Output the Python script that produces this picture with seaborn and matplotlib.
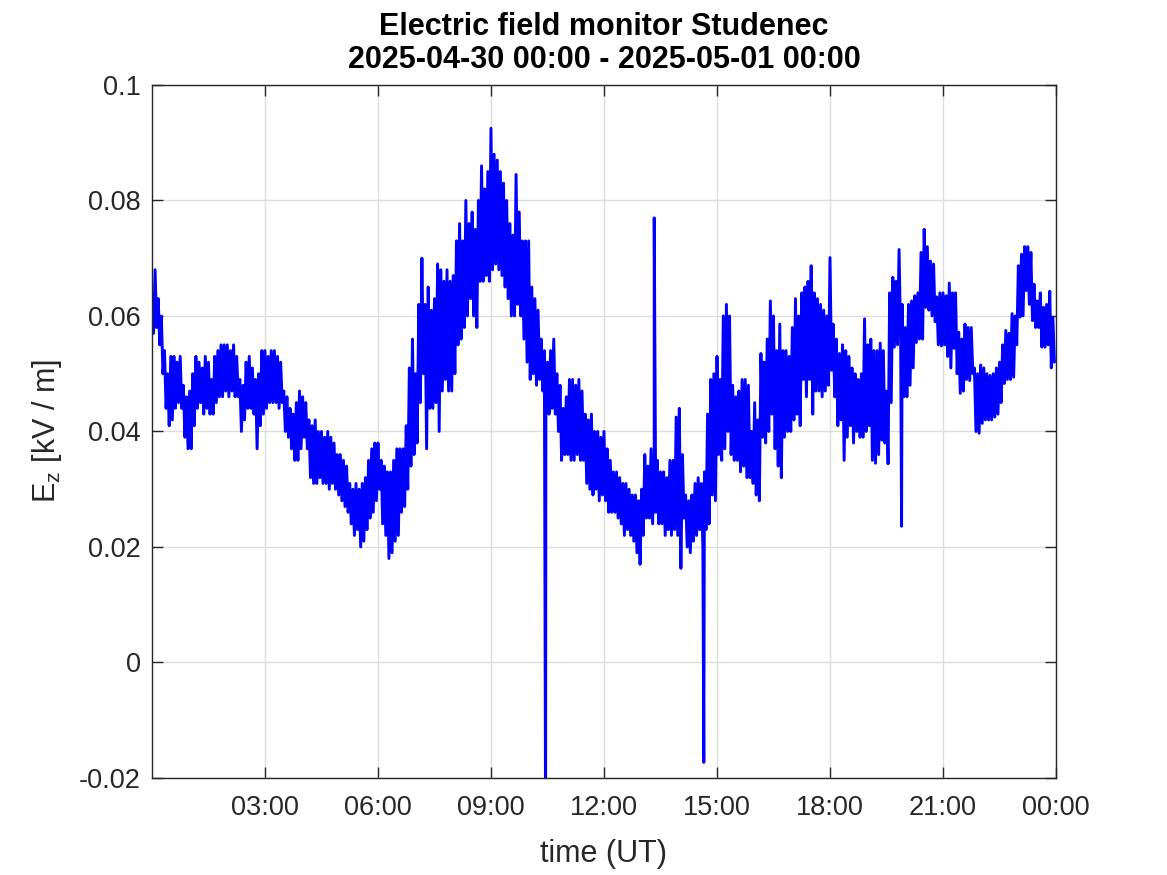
import numpy as np
import pandas as pd
import seaborn as sns
import matplotlib.pyplot as plt

# E_z envelope, one row per hour, 5-minute steps
# ez_hi at hh:mm, ez_lo at hh:mm + 2.5 min
ez_hi = [
    0.064, 0.068, 0.063, 0.060, 0.054, 0.050, 0.053, 0.053, 0.052, 0.053, 0.048, 0.046,
    0.047, 0.050, 0.053, 0.052, 0.051, 0.053, 0.052, 0.049, 0.053, 0.054, 0.055, 0.055,
    0.055, 0.054, 0.055, 0.053, 0.049, 0.048, 0.052, 0.053, 0.051, 0.049, 0.050, 0.054,
    0.054, 0.053, 0.054, 0.054, 0.053, 0.052, 0.047, 0.046, 0.044, 0.043, 0.045, 0.047,
    0.046, 0.045, 0.042, 0.041, 0.042, 0.040, 0.040, 0.039, 0.040, 0.039, 0.038, 0.036,
    0.036, 0.035, 0.034, 0.031, 0.030, 0.031, 0.030, 0.031, 0.032, 0.035, 0.037, 0.038,
    0.038, 0.035, 0.034, 0.033, 0.033, 0.035, 0.037, 0.037, 0.037, 0.041, 0.051, 0.056,
    0.050, 0.062, 0.070, 0.062, 0.065, 0.061, 0.063, 0.069, 0.068, 0.066, 0.068, 0.066,
    0.067, 0.073, 0.076, 0.073, 0.080, 0.076, 0.078, 0.075, 0.080, 0.086, 0.082, 0.085,
    0.0925, 0.088, 0.087, 0.085, 0.083, 0.080, 0.076, 0.074, 0.0845, 0.078, 0.073, 0.073,
    0.073, 0.065, 0.063, 0.061, 0.056, 0.054, 0.052, 0.054, 0.056, 0.050, 0.048, 0.044,
    0.046, 0.049, 0.049, 0.048, 0.049, 0.047, 0.043, 0.042, 0.043, 0.040, 0.040, 0.039,
    0.040, 0.037, 0.035, 0.033, 0.033, 0.032, 0.031, 0.031, 0.030, 0.029, 0.029, 0.028,
    0.030, 0.036, 0.034, 0.037, 0.036, 0.035, 0.033, 0.033, 0.032, 0.035, 0.035, 0.0425,
    0.044, 0.036, 0.029, 0.028, 0.029, 0.031, 0.032, 0.031, 0.033, 0.043, 0.049, 0.050,
    0.053, 0.049, 0.060, 0.062, 0.060, 0.048, 0.046, 0.047, 0.049, 0.049, 0.048, 0.040,
    0.045, 0.042, 0.0535, 0.052, 0.056, 0.0626, 0.060, 0.054, 0.0586, 0.054, 0.054, 0.053,
    0.058, 0.063, 0.060, 0.064, 0.065, 0.066, 0.0687, 0.064, 0.063, 0.062, 0.061, 0.060,
    0.0701, 0.0586, 0.056, 0.0535, 0.055, 0.054, 0.053, 0.051, 0.050, 0.049, 0.050, 0.0595,
    0.055, 0.056, 0.054, 0.054, 0.0553, 0.054, 0.047, 0.064, 0.0667, 0.066, 0.0715, 0.062,
    0.058, 0.062, 0.0626, 0.0635, 0.064, 0.071, 0.075, 0.072, 0.0695, 0.069, 0.0633, 0.064,
    0.064, 0.0635, 0.0657, 0.064, 0.064, 0.0572, 0.056, 0.0586, 0.058, 0.058, 0.051, 0.050,
    0.0515, 0.051, 0.050, 0.0497, 0.050, 0.051, 0.052, 0.055, 0.0575, 0.057, 0.0604, 0.060,
    0.0687, 0.0707, 0.072, 0.072, 0.071, 0.0655, 0.0626, 0.064, 0.0615, 0.062, 0.0643, 0.0597,
]
ez_lo = [
    0.057, 0.058, 0.055, 0.050, 0.044, 0.041, 0.042, 0.044, 0.045, 0.044, 0.039, 0.037,
    0.037, 0.041, 0.044, 0.045, 0.043, 0.044, 0.043, 0.043, 0.045, 0.046, 0.046, 0.047,
    0.046, 0.047, 0.046, 0.046, 0.040, 0.042, 0.044, 0.044, 0.043, 0.037, 0.041, 0.043,
    0.044, 0.045, 0.045, 0.045, 0.044, 0.045, 0.040, 0.039, 0.037, 0.035, 0.035, 0.037,
    0.039, 0.037, 0.032, 0.031, 0.031, 0.032, 0.031, 0.031, 0.030, 0.031, 0.030, 0.029,
    0.028, 0.027, 0.026, 0.024, 0.022, 0.023, 0.020, 0.021, 0.023, 0.025, 0.026, 0.028,
    0.030, 0.024, 0.022, 0.018, 0.019, 0.021, 0.022, 0.026, 0.027, 0.030, 0.034, 0.036,
    0.038, 0.045, 0.050, 0.037, 0.044, 0.044, 0.045, 0.040, 0.047, 0.049, 0.047, 0.047,
    0.050, 0.055, 0.056, 0.058, 0.060, 0.063, 0.060, 0.058, 0.066, 0.066, 0.067, 0.066,
    0.068, 0.069, 0.068, 0.067, 0.065, 0.063, 0.060, 0.060, 0.062, 0.060, 0.056, 0.052,
    0.049, 0.050, 0.048, 0.049, 0.047, 0.046, 0.043, 0.044, 0.043, 0.040, 0.035, 0.036,
    0.036, 0.035, 0.035, 0.036, 0.035, 0.035, 0.031, 0.030, 0.029, 0.030, 0.028, 0.029,
    0.028, 0.026, 0.026, 0.026, 0.025, 0.024, 0.022, 0.023, 0.022, 0.021, 0.019, 0.017,
    0.022, 0.025, 0.025, 0.024, 0.026, 0.024, 0.024, 0.022, 0.023, 0.022, 0.023, 0.022,
    0.0163, 0.025, 0.020, 0.019, 0.021, 0.022, 0.023, 0.020, 0.023, 0.024, 0.029, 0.028,
    0.036, 0.035, 0.037, 0.040, 0.036, 0.035, 0.035, 0.033, 0.034, 0.032, 0.032, 0.031,
    0.029, 0.028, 0.039, 0.038, 0.040, 0.043, 0.037, 0.034, 0.032, 0.039, 0.040, 0.040,
    0.042, 0.043, 0.041, 0.049, 0.046, 0.049, 0.043, 0.047, 0.047, 0.046, 0.047, 0.048,
    0.0506, 0.046, 0.041, 0.042, 0.035, 0.039, 0.041, 0.038, 0.040, 0.039, 0.039, 0.040,
    0.041, 0.035, 0.0345, 0.036, 0.0385, 0.038, 0.0344, 0.045, 0.0546, 0.055, 0.056, 0.046,
    0.046, 0.048, 0.051, 0.0554, 0.056, 0.056, 0.0615, 0.061, 0.060, 0.059, 0.055, 0.0548,
    0.055, 0.053, 0.051, 0.0544, 0.050, 0.0466, 0.047, 0.049, 0.0488, 0.050, 0.040, 0.0397,
    0.0414, 0.042, 0.042, 0.042, 0.0425, 0.043, 0.045, 0.0483, 0.049, 0.049, 0.0494, 0.055,
    0.0598, 0.060, 0.0644, 0.062, 0.0592, 0.058, 0.058, 0.0546, 0.0546, 0.055, 0.051, 0.052,
]
# isolated spikes (minutes after 00:00, kV/m)
spike_min = [627, 800, 879, 1194]
spike_val = [-0.03, 0.077, -0.0173, 0.0236]

xtick_hours = [3, 6, 9, 12, 15, 18, 21, 24]
xtick_labels = ['03:00', '06:00', '09:00', '12:00', '15:00', '18:00', '21:00', '00:00']
ytick_vals = [-0.02, 0, 0.02, 0.04, 0.06, 0.08, 0.1]
ytick_labels = ['-0.02', '0', '0.02', '0.04', '0.06', '0.08', '0.1']

t_hi = np.arange(len(ez_hi)) * 5.0
t_lo = t_hi + 2.5
df = pd.DataFrame({
    'minute': np.concatenate([t_hi, t_lo, spike_min]),
    'ez': np.concatenate([ez_hi, ez_lo, spike_val]),
})
df = df.sort_values('minute')
df['hour'] = df['minute'] / 60.0

sns.set_theme(style='white')
plt.rcParams['font.family'] = ['Liberation Sans', 'DejaVu Sans']
plt.rcParams['mathtext.fontset'] = 'custom'
plt.rcParams['mathtext.rm'] = 'Liberation Sans'

fig = plt.figure(figsize=(11.67, 8.75), dpi=100)
ax = fig.add_axes([0.1302, 0.1109, 0.7747, 0.792])
sns.lineplot(data=df, x='hour', y='ez', estimator=None, sort=False,
             color=(0, 0, 1), linewidth=2.1, ax=ax)

ax.set_xlim(0, 24)
ax.set_ylim(-0.02, 0.1)
ax.set_xticks(xtick_hours)
ax.set_xticklabels(xtick_labels)
ax.set_yticks(ytick_vals)
ax.set_yticklabels(ytick_labels)
ax.grid(True, color='#dcdcdc', linewidth=1)
ax.tick_params(direction='in', length=8, width=1, colors='#262626',
               labelsize=19.5, top=True, right=True, bottom=True, left=True)
ax.tick_params(axis='x', pad=12)
ax.tick_params(axis='y', pad=8)
for s in ax.spines.values():
    s.set_color('#262626')
    s.set_linewidth(1)

ax.set_xlabel('time (UT)', fontsize=22, color='#262626', labelpad=13)
ax.set_ylabel('$\\mathregular{E_z}$ [kV / m]', fontsize=22, color='#262626', labelpad=11)
ax.set_title('Electric field monitor Studenec\n2025-04-30 00:00 - 2025-05-01 00:00',
             fontsize=22, fontweight='bold', color='black', pad=12, linespacing=1.15)

fig.savefig('out.png', dpi=100, facecolor='white')
